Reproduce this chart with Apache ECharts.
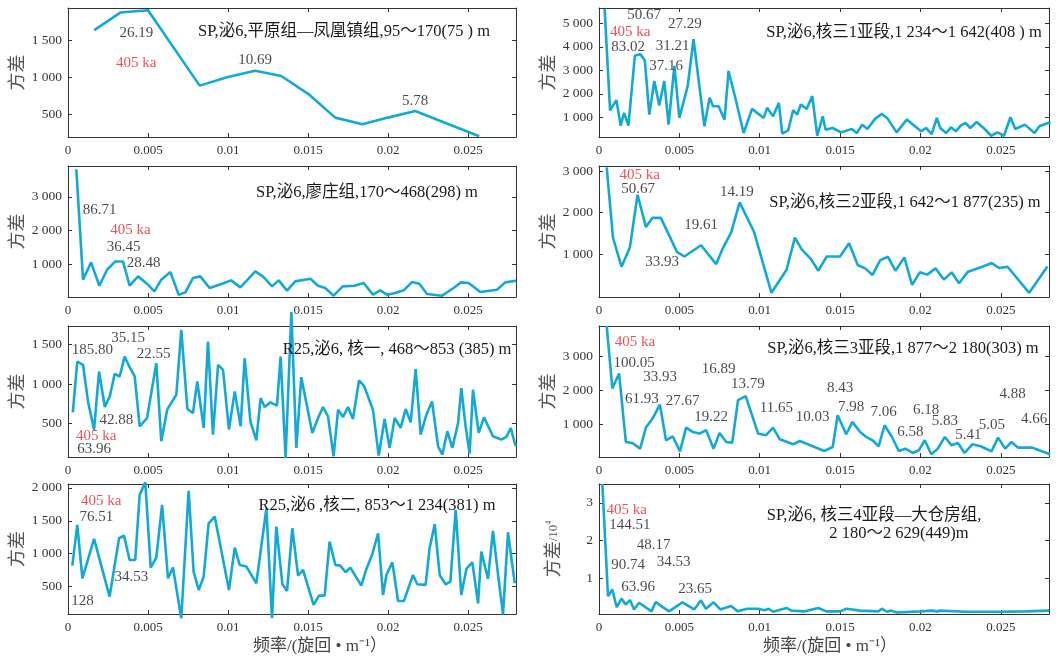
<!DOCTYPE html>
<html><head><meta charset="utf-8">
<script src="https://cdn.jsdelivr.net/npm/echarts@6/dist/echarts.min.js"></script>
<style>html,body{margin:0;padding:0;background:#fff}#c{width:1062px;height:659px}</style>
</head><body><div id="c"></div>
<script>
// ---------- DATA ----------
const xTicks = [0, 0.005, 0.01, 0.015, 0.02, 0.025];
const xTickLabels = ['0', '0.005', '0.01', '0.015', '0.02', '0.025'];

// SP,泌6,平原组—凤凰镇组
const p1Data = [[0.00164,1633],[0.00327,1869],[0.005,1900],[0.00823,889],[0.00994,1000],[0.0117,1089],[0.01333,1018],[0.0151,764],[0.0167,460],[0.0184,371],[0.02,460],[0.0217,549],[0.0257,211]];
const p1Labels = [[0.00427,1593,'26.19'],[0.0117,1231,'10.69'],[0.0217,676,'5.78']];
const p1Red = [[0.00427,1187,'405 ka']];
const p1YTicks = [500,1000,1500];

// SP,泌6,核三1亚段
const p2Data = [[0.00035,5614],[0.00069,1286],[0.00108,1729],[0.00135,643],[0.00156,1186],[0.00183,643],[0.00223,3614],[0.00256,3686],[0.00285,3429],[0.00313,1114],[0.00344,2543],[0.00375,1500],[0.00406,2543],[0.00433,686],[0.00469,3186],[0.005,971],[0.00552,2329],[0.00588,4329],[0.00656,614],[0.00688,1829],[0.0071,1471],[0.00744,1471],[0.00781,900],[0.00806,2971],[0.00848,1829],[0.009,329],[0.00952,1357],[0.01025,971],[0.01046,1400],[0.01083,1043],[0.01119,1614],[0.0114,300],[0.01177,443],[0.01208,1300],[0.01233,1114],[0.01256,1543],[0.01292,1357],[0.01327,1900],[0.01358,214],[0.01392,1043],[0.0141,471],[0.01454,543],[0.01506,357],[0.01573,500],[0.01604,329],[0.01638,686],[0.0167,500],[0.01719,943],[0.0176,1143],[0.01796,943],[0.01852,357],[0.01915,900],[0.02004,400],[0.02035,543],[0.0207,286],[0.02102,971],[0.02123,543],[0.0216,329],[0.0219,571],[0.0222,400],[0.0225,643],[0.0228,757],[0.0231,543],[0.0235,800],[0.024,500],[0.0244,214],[0.0248,357],[0.0252,214],[0.0256,1000],[0.0259,500],[0.0265,686],[0.0271,329],[0.0274,614],[0.0281,800]];
const p2Labels = [[0.00281,5329,'50.67'],[0.00181,3971,'83.02'],[0.00535,4971,'27.29'],[0.00458,4043,'31.21'],[0.00417,3186,'37.16']];
const p2Red = [[0.00194,4614,'405 ka']];
const p2YTicks = [1000,2000,3000,4000,5000];

// SP,泌6,廖庄组
const p3Data = [[0.00052,3822],[0.00094,535],[0.00144,1050],[0.00196,356],[0.00244,832],[0.00296,1079],[0.00344,1079],[0.00385,356],[0.00438,634],[0.00494,416],[0.0054,188],[0.00583,535],[0.0064,762],[0.00692,89],[0.00733,158],[0.00781,584],[0.00827,634],[0.00885,287],[0.00963,416],[0.0102,515],[0.01077,307],[0.01123,535],[0.0117,782],[0.01223,614],[0.01275,337],[0.01317,515],[0.01369,208],[0.0142,485],[0.01515,564],[0.01563,356],[0.01608,287],[0.0166,59],[0.01717,337],[0.01792,356],[0.01848,436],[0.01906,89],[0.01952,218],[0.01994,89],[0.02046,139],[0.02098,218],[0.0215,465],[0.02196,416],[0.02244,109],[0.02338,59],[0.0241,287],[0.02456,455],[0.02504,436],[0.02577,168],[0.02681,238],[0.02733,455],[0.028,505]];
const p3Labels = [[0.00198,2594,'86.71'],[0.00348,1505,'36.45'],[0.00473,1030,'28.48']];
const p3Red = [[0.0039,2000,'405 ka']];
const p3YTicks = [1000,2000,3000];

// SP,泌6,核三2亚段
const p4Data = [[0.00048,3087],[0.00087,1397],[0.0014,698],[0.00192,1159],[0.0024,2429],[0.00292,1651],[0.00333,1873],[0.00385,1873],[0.00485,1056],[0.00531,944],[0.00635,1214],[0.00729,762],[0.0077,1135],[0.00823,1532],[0.00875,2246],[0.00965,1532],[0.01073,71],[0.01167,627],[0.01219,1397],[0.0126,1119],[0.01319,881],[0.01365,603],[0.01417,944],[0.015,944],[0.01556,1262],[0.0161,738],[0.01656,659],[0.01702,500],[0.0175,857],[0.01798,937],[0.01844,603],[0.019,921],[0.01948,262],[0.01996,563],[0.02042,508],[0.02094,659],[0.02146,389],[0.02194,563],[0.0224,302],[0.02296,579],[0.02385,698],[0.02444,786],[0.0249,667],[0.02542,698],[0.02677,71],[0.0279,706]];
const p4Labels = [[0.00244,2563,'50.67'],[0.00858,2484,'14.19'],[0.00635,1690,'19.61'],[0.00392,802,'33.93']];
const p4Red = [[0.00254,2905,'405 ka']];
const p4YTicks = [1000,2000,3000];

// R25,泌6,核一
const p5Data = [[0.0003,642],[0.00058,1282],[0.00094,1241],[0.00125,780],[0.00163,425],[0.00194,1157],[0.0023,709],[0.00261,843],[0.00292,1128],[0.00323,1094],[0.00354,1345],[0.00385,1211],[0.00417,1094],[0.00448,467],[0.00494,571],[0.00552,1262],[0.00583,278],[0.0062,676],[0.00677,864],[0.00708,1680],[0.00746,684],[0.00781,634],[0.00808,1031],[0.00848,446],[0.00875,1534],[0.00906,362],[0.00938,1241],[0.00969,1178],[0.01006,425],[0.01042,906],[0.01079,467],[0.01104,1324],[0.0114,529],[0.01177,291],[0.01204,822],[0.01229,709],[0.01265,768],[0.01306,726],[0.01329,1345],[0.0136,69],[0.01396,1906],[0.01427,195],[0.01458,1086],[0.0149,759],[0.01527,383],[0.01563,571],[0.01594,709],[0.01625,592],[0.0166,90],[0.01688,676],[0.01719,584],[0.0175,709],[0.01781,559],[0.01819,1044],[0.0185,977],[0.01906,676],[0.01942,98],[0.01979,559],[0.0201,195],[0.02042,571],[0.02079,446],[0.0211,684],[0.02142,517],[0.02173,1186],[0.02204,362],[0.0224,613],[0.02275,780],[0.02313,215],[0.0234,111],[0.02371,404],[0.02402,195],[0.02438,508],[0.02458,948],[0.02485,467],[0.0251,123],[0.02531,927],[0.02567,383],[0.026,580],[0.02656,341],[0.02708,299],[0.0274,333],[0.02767,446],[0.02798,215]];
const p5Labels = [[0.00152,1429,'185.80'],[0.00375,1575,'35.15'],[0.00535,1379,'22.55'],[0.00302,542,'42.88'],[0.00163,182,'63.96']];
const p5Red = [[0.00177,341,'405 ka']];
const p5YTicks = [500,1000,1500];

// SP,泌6,核三3亚段
const p6Data = [[0.00048,3910],[0.00083,2059],[0.00125,2505],[0.00167,475],[0.00208,446],[0.00256,277],[0.00292,901],[0.00333,1168],[0.00379,1584],[0.00417,525],[0.00458,644],[0.00504,198],[0.00542,901],[0.00583,772],[0.00625,723],[0.00667,822],[0.00713,277],[0.0075,743],[0.00792,475],[0.00829,455],[0.00865,1713],[0.00913,1832],[0.0099,723],[0.01038,673],[0.01083,901],[0.01125,554],[0.01208,406],[0.0125,505],[0.01402,208],[0.01454,327],[0.01485,1267],[0.01538,703],[0.01577,1069],[0.01625,772],[0.01663,624],[0.01702,525],[0.0174,347],[0.01777,970],[0.01823,624],[0.01865,208],[0.01906,277],[0.01952,149],[0.0199,228],[0.02027,525],[0.02067,109],[0.02108,277],[0.02152,624],[0.02194,376],[0.02233,446],[0.02275,149],[0.02323,406],[0.02375,347],[0.02442,198],[0.02483,604],[0.02527,277],[0.02567,475],[0.02608,307],[0.0265,307],[0.02696,307],[0.02738,228],[0.02806,109]];
const p6Labels = [[0.00219,2822,'100.05'],[0.00381,2406,'33.93'],[0.00267,1733,'61.93'],[0.00521,1683,'27.67'],[0.00698,1218,'19.22'],[0.00744,2624,'16.89'],[0.00927,2178,'13.79'],[0.01104,1465,'11.65'],[0.01329,1218,'10.03'],[0.015,2059,'8.43'],[0.01569,1515,'7.98'],[0.01771,1366,'7.06'],[0.01938,772,'6.58'],[0.02035,1416,'6.18'],[0.02152,1099,'5.83'],[0.02298,673,'5.41'],[0.02444,970,'5.05'],[0.02573,1891,'4.88'],[0.02708,1139,'4.66']];
const p6Red = [[0.00223,3445,'405 ka']];
const p6YTicks = [1000,2000,3000];

// R25,泌6,核二
const p7Data = [[0.00027,817],[0.00058,1437],[0.0009,624],[0.00163,1224],[0.0026,345],[0.00319,1234],[0.0035,1274],[0.00385,903],[0.0042,903],[0.00448,1894],[0.00483,2087],[0.00517,787],[0.00552,939],[0.00588,1742],[0.00625,624],[0.00656,787],[0.00708,15],[0.00754,1955],[0.00785,726],[0.00817,446],[0.00848,649],[0.00879,1462],[0.00917,1564],[0.01006,446],[0.01042,1091],[0.01073,827],[0.01115,802],[0.01177,548],[0.0124,1691],[0.01275,15],[0.01302,1411],[0.0134,533],[0.01369,431],[0.01402,1386],[0.01438,665],[0.01469,751],[0.01535,218],[0.01569,360],[0.01604,360],[0.01635,1183],[0.01671,827],[0.01702,817],[0.01735,716],[0.01765,787],[0.01833,512],[0.01865,766],[0.01902,990],[0.01938,1310],[0.01969,370],[0.0199,675],[0.02027,868],[0.02063,279],[0.021,279],[0.02156,675],[0.02183,533],[0.02235,523],[0.0226,1081],[0.02292,1447],[0.02323,675],[0.0236,533],[0.0239,573],[0.02423,1665],[0.02458,370],[0.0249,766],[0.02527,868],[0.02563,243],[0.02583,1030],[0.02625,614],[0.02656,1345],[0.02688,675],[0.02719,75],[0.0275,1325],[0.02792,548]];
const p7Labels = [[0.00177,1549,'76.51'],[0.00396,649,'34.53'],[0.0009,279,'128']];
const p7Red = [[0.00208,1803,'405 ka']];
const p7YTicks = [500,1000,1500,2000];

// SP,泌6,核三4亚段—大仓房组 (方差/10^4)
const p8Data = [[0.00021,3.5],[0.00056,0.52],[0.00083,0.70],[0.0011,0.23],[0.0014,0.46],[0.00166,0.30],[0.00193,0.42],[0.00218,0.17],[0.00249,0.35],[0.00326,0.12],[0.00353,0.37],[0.00394,0.24],[0.00436,0.12],[0.00519,0.36],[0.00592,0.17],[0.00634,0.41],[0.00665,0.19],[0.00713,0.36],[0.00755,0.17],[0.00822,0.26],[0.00863,0.12],[0.00921,0.19],[0.00988,0.19],[0.0103,0.15],[0.01055,0.19],[0.01083,0.11],[0.01166,0.21],[0.01197,0.14],[0.01281,0.12],[0.01364,0.21],[0.01415,0.12],[0.015,0.12],[0.01541,0.19],[0.01624,0.14],[0.0174,0.12],[0.0176,0.19],[0.01791,0.11],[0.01818,0.14],[0.01853,0.09],[0.02,0.12],[0.02072,0.14],[0.02103,0.12],[0.02124,0.14],[0.0228,0.11],[0.02487,0.11],[0.02653,0.12],[0.028,0.14]];
const p8Labels = [[0.00192,2.42,'144.51'],[0.0034,1.88,'48.17'],[0.00181,1.35,'90.74'],[0.00465,1.43,'34.53'],[0.00244,0.76,'63.96'],[0.00598,0.72,'23.65']];
const p8Red = [[0.00173,2.82,'405 ka']];
const p8YTicks = [1,2,3];

const panelTitles = [
  ['SP,泌6,平原组—凤凰镇组,95～170(75 ) m'],
  ['SP,泌6,核三1亚段,1 234～1 642(408 ) m'],
  ['SP,泌6,廖庄组,170～468(298) m'],
  ['SP,泌6,核三2亚段,1 642～1 877(235) m'],
  ['R25,泌6, 核一, 468～853 (385) m'],
  ['SP,泌6,核三3亚段,1 877～2 180(303) m'],
  ['R25,泌6 ,核二, 853～1 234(381) m'],
  ['SP,泌6, 核三4亚段—大仓房组,', '2 180～2 629(449)m']
];
const yName = '方差';
const xName = '频率/(旋回 • m⁻¹）';

// ---------- LAYOUT / STYLE ----------
const panels = [
  {data:p1Data, labels:p1Labels, red:p1Red, yTicks:p1YTicks, yMin:200,  yMax:1930},
  {data:p2Data, labels:p2Labels, red:p2Red, yTicks:p2YTicks, yMin:160,  yMax:5650},
  {data:p3Data, labels:p3Labels, red:p3Red, yTicks:p3YTicks, yMin:20,   yMax:3920},
  {data:p4Data, labels:p4Labels, red:p4Red, yTicks:p4YTicks, yMin:-30,  yMax:3120},
  {data:p5Data, labels:p5Labels, red:p5Red, yTicks:p5YTicks, yMin:80,   yMax:1730},
  {data:p6Data, labels:p6Labels, red:p6Red, yTicks:p6YTicks, yMin:30,   yMax:3910},
  {data:p7Data, labels:p7Labels, red:p7Red, yTicks:p7YTicks, yMin:80,   yMax:2060},
  {data:p8Data, labels:p8Labels, red:p8Red, yTicks:p8YTicks, yMin:0.05, yMax:3.5}
];
const colLeft = [68, 599], colWidth = [448, 450];
const rowTop = [8, 166, 326, 484], rowHeight = [129, 131, 131, 130];
const titlePos = [[344,32],[904,33],[367,193],[905,203],[397,350],[903,349],[377,506],[874,516]];
const xNamePos = [[320,647],[830,647]];

const SERIF = '"Liberation Serif","Times New Roman","Noto Sans CJK SC",serif';
const LINE_COLOR = '#12a9d6';
const AXIS_COLOR = '#333';

function fmtNum(v) {
  const s = String(Math.round(v));
  return s.length > 3 ? s.slice(0, -3) + ' ' + s.slice(-3) : s;
}
function fmtX(v) {
  for (let i = 0; i < xTicks.length; i++) if (Math.abs(xTicks[i] - v) < 1e-9) return xTickLabels[i];
  return '';
}

const grid = [], xAxis = [], yAxis = [], series = [], graphic = [];
panels.forEach((p, i) => {
  const col = i % 2, row = Math.floor(i / 2);
  grid.push({left: colLeft[col], top: rowTop[row], width: colWidth[col], height: rowHeight[row], containLabel: false});
  const axLine = {show: true, onZero: false, lineStyle: {color: AXIS_COLOR, width: 1}};
  xAxis.push({
    gridIndex: i, type: 'value', min: 0, max: 0.028, position: 'bottom',
    axisLine: axLine,
    axisTick: {show: true, inside: true, length: 4, customValues: xTicks, lineStyle: {color: AXIS_COLOR}},
    axisLabel: {show: true, customValues: xTicks, formatter: fmtX, margin: 7, fontSize: 13, color: '#333', fontFamily: SERIF},
    splitLine: {show: false}
  });
  xAxis.push({
    gridIndex: i, type: 'value', min: 0, max: 0.028, position: 'top',
    axisLine: axLine,
    axisTick: {show: true, inside: true, length: 4, customValues: xTicks, lineStyle: {color: AXIS_COLOR}},
    axisLabel: {show: false}, splitLine: {show: false}
  });
  const yNameCfg = (i === 7)
    ? {name: '{a|' + yName + '}{b|/10}{c|4}', nameGap: 36,
       nameTextStyle: {rich: {a: {fontSize: 18, color: '#555', fontFamily: SERIF}, b: {fontSize: 13, color: '#555', fontFamily: SERIF}, c: {fontSize: 8, color: '#555', fontFamily: SERIF, verticalAlign: 'top', padding: [0,0,8,0]}}}}
    : {name: yName, nameGap: 41, nameTextStyle: {fontSize: 18, color: '#555', fontFamily: SERIF}};
  yAxis.push(Object.assign({
    gridIndex: i, type: 'value', min: p.yMin, max: p.yMax, position: 'left',
    axisLine: axLine,
    axisTick: {show: true, inside: true, length: 4, customValues: p.yTicks, lineStyle: {color: AXIS_COLOR}},
    axisLabel: {show: true, customValues: p.yTicks, formatter: fmtNum, margin: 6, fontSize: 13.5, color: '#333', fontFamily: SERIF},
    splitLine: {show: false}, nameLocation: 'middle'
  }, yNameCfg));
  yAxis.push({
    gridIndex: i, type: 'value', min: p.yMin, max: p.yMax, position: 'right',
    axisLine: axLine,
    axisTick: {show: true, inside: true, length: 4, customValues: p.yTicks, lineStyle: {color: AXIS_COLOR}},
    axisLabel: {show: false}, splitLine: {show: false}
  });
  series.push({
    type: 'line', xAxisIndex: 2 * i, yAxisIndex: 2 * i, data: p.data,
    symbol: 'none', showSymbol: false, clip: false, z: 2,
    lineStyle: {color: LINE_COLOR, width: 2.6}
  });
  const mkLabels = (arr, color) => ({
    type: 'scatter', xAxisIndex: 2 * i, yAxisIndex: 2 * i, z: 5, symbolSize: 1,
    itemStyle: {color: 'transparent'}, silent: true,
    data: arr.map(d => ({value: [d[0], d[1]], name: d[2]})),
    label: {show: true, position: 'inside', formatter: q => q.name, color: color, fontSize: 15, fontFamily: SERIF}
  });
  series.push(mkLabels(p.labels, '#1a1a1a'));
  series.push(mkLabels(p.red, '#e8262d'));
  panelTitles[i].forEach((line, k) => {
    let cx = titlePos[i][0], cy = titlePos[i][1] + k * 18;
    if (i === 7 && k === 1) cx = 899;
    graphic.push({type: 'text', x: cx, y: cy, z: 10,
      style: {text: line, fill: '#1a1a1a', font: '16.5px ' + SERIF, align: 'center', verticalAlign: 'middle'}});
  });
});
xNamePos.forEach(pos => {
  graphic.push({type: 'text', x: pos[0], y: pos[1], z: 10,
    style: {text: xName, fill: '#444', font: '17px ' + SERIF, align: 'center', verticalAlign: 'middle'}});
});

const chart = echarts.init(document.getElementById('c'), null, {renderer: 'canvas'});
chart.setOption({animation: false, backgroundColor: '#fff', grid, xAxis, yAxis, series, graphic});
</script>
</body></html>
